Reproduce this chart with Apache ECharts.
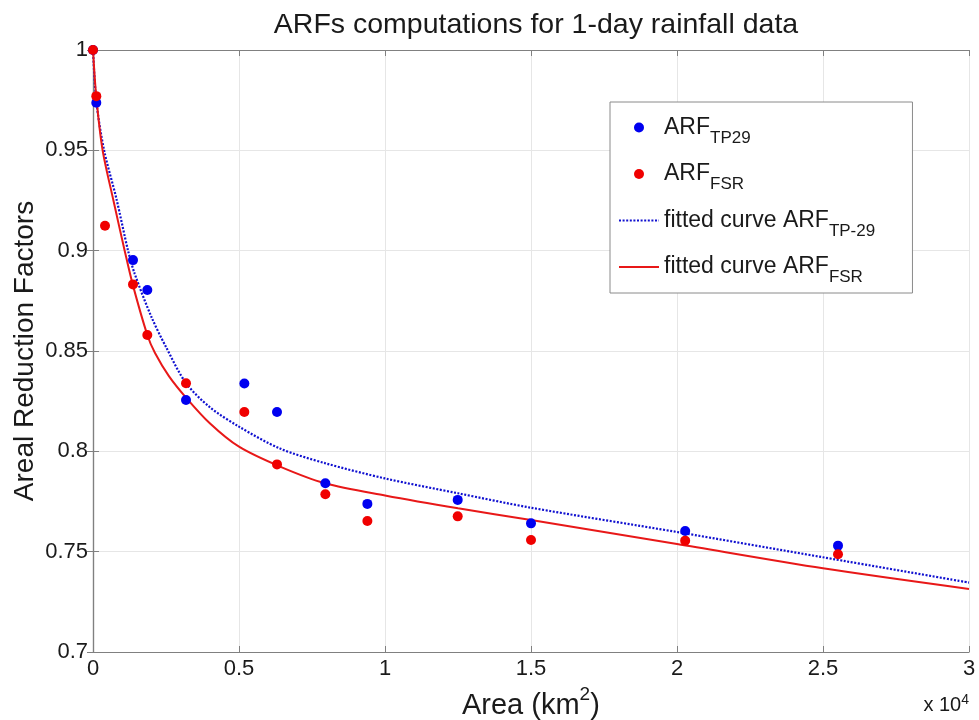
<!DOCTYPE html>
<html>
<head>
<meta charset="utf-8">
<script src="https://cdn.jsdelivr.net/npm/echarts@6/dist/echarts.min.js"></script>
<style>html,body{margin:0;padding:0;background:#fff}#c{width:979px;height:720px}</style>
</head>
<body>
<div id="c"></div>
<script>
// ---- data ----
const areaTP29 = [0, 113, 1370, 1860, 3185, 5183, 6302, 7957, 9396, 12490, 15000, 20280, 25514];
const arfTP29  = [1.0, 0.9737, 0.8953, 0.8804, 0.8256, 0.8338, 0.8196, 0.7841, 0.7738, 0.7758, 0.7641, 0.7603, 0.7530];
const areaFSR  = [0, 113, 411, 1370, 1860, 3185, 5183, 6302, 7957, 9396, 12490, 15000, 20280, 25514];
const arfFSR   = [1.0, 0.9770, 0.9124, 0.8832, 0.8580, 0.8339, 0.8196, 0.7935, 0.7786, 0.7653, 0.7676, 0.7558, 0.7555, 0.7487];

const fitAreaTP29 = [0, 113, 380, 800, 1200, 1427, 2000, 2500, 3185, 4000, 5000, 6405, 7946, 10000, 12500, 15000, 20000, 25000, 30000];
const fitTP29     = [1.0, 0.9745, 0.950, 0.926, 0.900, 0.8885, 0.867, 0.852, 0.834, 0.822, 0.8123, 0.8014, 0.7941, 0.7865, 0.7791, 0.7719, 0.7598, 0.7472, 0.7346];
const fitAreaFSR  = [0, 113, 330, 700, 1085, 1360, 1860, 2124, 2600, 3185, 4000, 5000, 6405, 7946, 10000, 12500, 15000, 20000, 25000, 30000];
const fitFSR      = [1.0, 0.9765, 0.950, 0.925, 0.900, 0.8832, 0.858, 0.849, 0.8375, 0.8268, 0.814, 0.8023, 0.7924, 0.7841, 0.778, 0.7716, 0.7658, 0.7538, 0.7417, 0.7314];

const xTickLabels = ['0', '0.5', '1', '1.5', '2', '2.5', '3'];
const yTickLabels = ['0.7', '0.75', '0.8', '0.85', '0.9', '0.95', '1'];

const FONT = '"Liberation Sans", Arial, Helvetica, sans-serif';
const TXT = '#1a1a1a';
const AX = '#808080';

const zip = (xs, ys) => xs.map((x, i) => [x, ys[i]]);

const legendNames = {
  'ARF_TP29': '{m|ARF}{s|TP29}{g| }',
  'ARF_FSR': '{m|ARF}{s|FSR}{g| }',
  'fit_TP29': '{m|fitted curve ARF}{s|TP-29}{g| }',
  'fit_FSR': '{m|fitted curve ARF}{s|FSR}{g| }'
};

const chart = echarts.init(document.getElementById('c'), null, {renderer: 'canvas'});
const option = {
  backgroundColor: '#fff',
  animation: false,
  title: {
    text: 'ARFs computations for 1-day rainfall data',
    left: 531, top: 6, textAlign: 'center',
    textStyle: {fontFamily: FONT, fontSize: 28.5, fontWeight: 'normal', color: TXT}
  },
  grid: {left: 93, top: 50, width: 876, height: 602, containLabel: false, outerBoundsMode: 'none'},
  xAxis: [{
    type: 'value', min: 0, max: 30000, interval: 5000,
    name: '{a|Area (km}{sup|2}{a|)}{g| }', nameLocation: 'middle', nameGap: 26,
    nameTextStyle: {fontFamily: FONT, fontSize: 29, color: TXT,
      rich: {
        a: {fontFamily: FONT, fontSize: 29, color: TXT, lineHeight: 29, verticalAlign: 'bottom'},
        sup: {fontFamily: FONT, fontSize: 19, color: TXT, lineHeight: 19, verticalAlign: 'top'},
        g: {fontFamily: FONT, fontSize: 1, lineHeight: 36, verticalAlign: 'middle'}
      }},
    axisLine: {show: true, lineStyle: {color: AX, width: 1.2}},
    axisTick: {show: true, inside: true, length: 6, lineStyle: {color: AX}},
    axisLabel: {fontFamily: FONT, fontSize: 22, color: TXT, margin: 6,
      formatter: (v, i) => xTickLabels[i]},
    splitLine: {show: true, lineStyle: {color: '#e6e6e6', width: 1}}
  }, {
    type: 'value', min: 0, max: 30000, interval: 5000, position: 'top',
    axisLine: {show: true, lineStyle: {color: AX, width: 1.2}},
    axisTick: {show: true, inside: true, length: 6, lineStyle: {color: AX}},
    axisLabel: {show: false}, splitLine: {show: false}
  }],
  yAxis: [{
    type: 'value', min: 0.7, max: 1, interval: 0.05,
    name: 'Areal Reduction Factors', nameLocation: 'middle', nameGap: 54,
    nameMoveOverlap: false,
    nameTextStyle: {fontFamily: FONT, fontSize: 28, color: TXT},
    axisLine: {show: true, lineStyle: {color: AX, width: 1.2}},
    axisTick: {show: true, inside: true, length: 6, lineStyle: {color: AX}},
    axisLabel: {fontFamily: FONT, fontSize: 22, color: TXT, margin: 5,
      formatter: (v, i) => yTickLabels[i]},
    splitLine: {show: true, lineStyle: {color: '#e6e6e6', width: 1}}
  }, {
    type: 'value', min: 0.7, max: 1, interval: 0.05, position: 'right',
    axisLine: {show: true, lineStyle: {color: AX, width: 1.2}},
    axisTick: {show: true, inside: true, length: 6, lineStyle: {color: AX}},
    axisLabel: {show: false}, splitLine: {show: false}
  }],
  legend: {
    orient: 'vertical', left: 610, top: 102,
    padding: [14, 37, 7, 8],
    itemWidth: 40, itemHeight: 10, itemGap: 16,
    selectedMode: false,
    backgroundColor: '#fff', borderColor: '#8a8a8a', borderWidth: 1,
    data: [
      {name: 'ARF_TP29', icon: 'circle'},
      {name: 'ARF_FSR', icon: 'circle'},
      {name: 'fit_TP29', itemStyle: {opacity: 0}},
      {name: 'fit_FSR', itemStyle: {opacity: 0}}
    ],
    formatter: (name) => legendNames[name],
    textStyle: {
      fontFamily: FONT, fontSize: 23, color: TXT,
      rich: {
        m: {fontFamily: FONT, fontSize: 23, color: TXT, lineHeight: 23, verticalAlign: 'middle'},
        s: {fontFamily: FONT, fontSize: 17, color: TXT, lineHeight: 17, verticalAlign: 'bottom'},
        g: {fontFamily: FONT, fontSize: 1, lineHeight: 38, verticalAlign: 'middle'}
      }
    }
  },
  graphic: [{
    type: 'text', x: 969, y: 704,
    style: {
      text: '{n|x 10}{s|4}', align: 'right', verticalAlign: 'middle',
      fontFamily: FONT, fontSize: 20, fill: TXT,
      rich: {
        n: {fontFamily: FONT, fontSize: 20, fill: TXT, lineHeight: 22, verticalAlign: 'bottom'},
        s: {fontFamily: FONT, fontSize: 14, fill: TXT, lineHeight: 14, verticalAlign: 'top'}
      }
    }
  }],
  series: [
    {
      name: 'fit_TP29', type: 'line', data: zip(fitAreaTP29, fitTP29),
      smooth: 0.3, showSymbol: false, symbol: 'none', z: 2,
      lineStyle: {color: '#1010d0', width: 2.2, type: [2, 1.6]},
      itemStyle: {color: '#1010d0'}
    },
    {
      name: 'fit_FSR', type: 'line', data: zip(fitAreaFSR, fitFSR),
      smooth: 0.3, showSymbol: false, symbol: 'none', z: 3,
      lineStyle: {color: '#e81818', width: 2},
      itemStyle: {color: '#e81818'}
    },
    {
      name: 'ARF_TP29', type: 'scatter', data: zip(areaTP29, arfTP29),
      symbol: 'circle', symbolSize: 10, z: 4,
      itemStyle: {color: '#0000f0', opacity: 1}
    },
    {
      name: 'ARF_FSR', type: 'scatter', data: zip(areaFSR, arfFSR),
      symbol: 'circle', symbolSize: 10, z: 5,
      itemStyle: {color: '#f00000', opacity: 1}
    }
  ]
};
chart.setOption(option);
</script>
</body>
</html>
